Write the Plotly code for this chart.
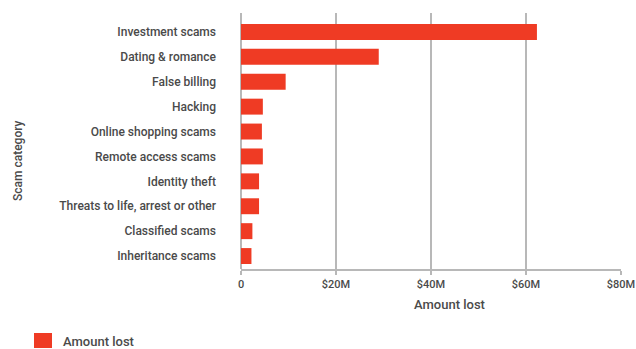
import plotly.graph_objects as go

categories = [
    "Investment scams",
    "Dating & romance",
    "False billing",
    "Hacking",
    "Online shopping scams",
    "Remote access scams",
    "Identity theft",
    "Threats to life, arrest or other",
    "Classified scams",
    "Inheritance scams",
]
amount_lost = [62.3e6, 29.0e6, 9.4e6, 4.6e6, 4.4e6, 4.6e6, 3.8e6, 3.8e6, 2.4e6, 2.2e6]
tick_values = [0, 20e6, 40e6, 60e6, 80e6]
tick_labels = ["0", "$20M", "$40M", "$60M", "$80M"]
series_name = "Amount lost"

FONT = "Roboto"
TEXT = "#4a4a4a"
GRID = "#b8b8b8"
RED = "#ef3b24"

W, H = 636, 349
L, R, T, B = 241, 15, 13, 80
pw, ph = W - L - R, H - T - B


def px(x):
    return (x - L) / pw


def py(y):
    return (H - B - y) / ph


fig = go.Figure()
fig.add_trace(go.Bar(
    y=categories, x=amount_lost, orientation="h", name=series_name,
    marker=dict(color=RED, line=dict(width=0)),
    hoverinfo="skip", showlegend=False,
))

fig.update_layout(
    width=W, height=H,
    margin=dict(l=L, r=R, t=T, b=B, autoexpand=False),
    paper_bgcolor="white", plot_bgcolor="white",
    bargap=0.36,
    font=dict(family=FONT, color=TEXT, size=12),
    showlegend=False,
    xaxis=dict(
        range=[0, 80e6], tickvals=tick_values, ticktext=tick_labels,
        showgrid=True, gridcolor=GRID, gridwidth=1.5,
        zeroline=True, zerolinecolor=GRID, zerolinewidth=1.5,
        showline=True, linecolor=GRID, linewidth=1.5,
        ticks="outside", ticklen=4, tickcolor=GRID, tickwidth=1.5,
        tickfont=dict(family=FONT, size=11, color=TEXT, weight=500),
        fixedrange=True,
    ),
    yaxis=dict(
        categoryorder="array", categoryarray=categories,
        range=[9.52, -0.76],
        showgrid=False, showline=False, ticks="",
        ticklabelstandoff=24,
        tickfont=dict(family=FONT, size=12, color=TEXT, weight=500),
        fixedrange=True,
    ),
    shapes=[
        dict(type="rect", xref="paper", yref="paper",
             x0=px(34), x1=px(52), y0=py(348), y1=py(333),
             fillcolor=RED, line=dict(width=0)),
    ],
    annotations=[
        dict(text=series_name, x=px(449), y=py(304), xref="paper", yref="paper",
             xanchor="center", yanchor="middle", showarrow=False,
             font=dict(family=FONT, size=13, color=TEXT, weight=500)),
        dict(text="Scam category", x=px(18), y=py(160), xref="paper", yref="paper",
             xanchor="center", yanchor="middle", showarrow=False, textangle=-90,
             font=dict(family=FONT, size=12, color=TEXT, weight=500)),
        dict(text=series_name, x=px(61), y=py(341), xref="paper", yref="paper",
             xanchor="left", yanchor="middle", showarrow=False,
             font=dict(family=FONT, size=13, color=TEXT, weight=500)),
    ],
)

fig.write_html(
    "out.html",
    config={"displayModeBar": False, "staticPlot": True},
    post_script="document.body.style.margin='0px';document.body.style.overflow='hidden';",
)
